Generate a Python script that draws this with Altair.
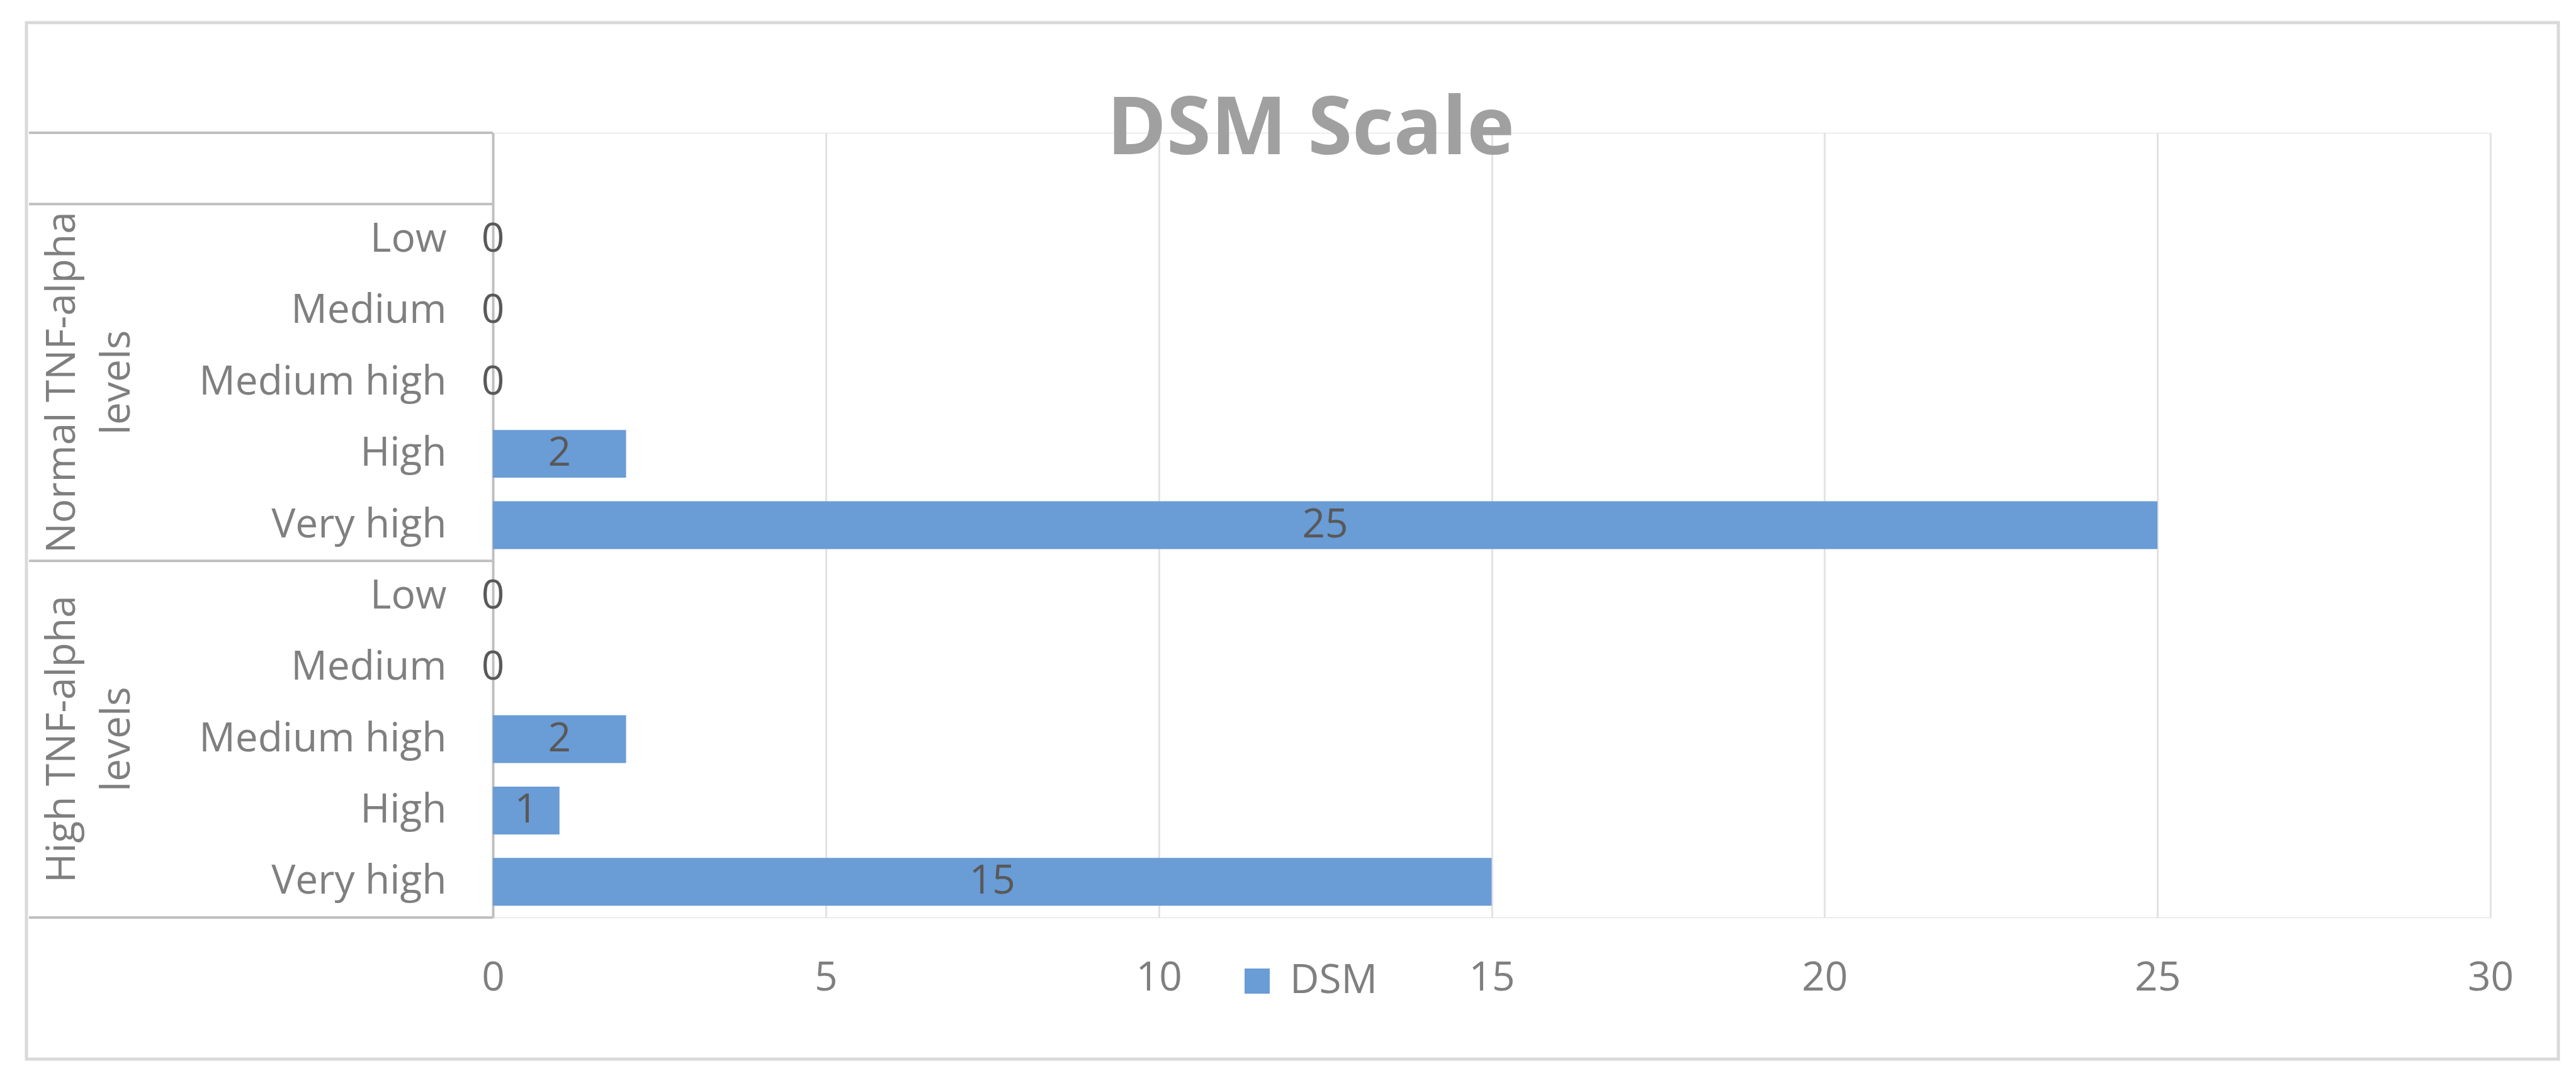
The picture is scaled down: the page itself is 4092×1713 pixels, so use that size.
import altair as alt
import pandas as pd

# ---- data ----
groups = ["Normal TNF-alpha levels", "High TNF-alpha levels"]
group_label_lines = [["Normal TNF-alpha", "levels"], ["High TNF-alpha", "levels"]]
levels = ["Low", "Medium", "Medium high", "High", "Very high"]
normal_values = [0, 0, 0, 2, 25]
high_values = [0, 0, 2, 1, 15]
series_name = "DSM"
title_text = "DSM Scale"
x_ticks = [0, 5, 10, 15, 20, 25, 30]

# ---- tables ----
values_by_group = [normal_values, high_values]
rows = []
for g, vals in zip(groups, values_by_group):
    for lvl, v in zip(levels, vals):
        rows.append({"key": f"{g}|{lvl}", "value": v, "series": series_name})
df = pd.DataFrame(rows)

domain = ["header"] + [f"{g}|{l}" for g in groups for l in levels]

grp_df = pd.DataFrame({
    "key": [f"{g}|{levels[len(levels)//2]}" for g in groups],
    "label": group_label_lines,
})

# table boundaries (rows counted from the bottom)
sizes = [len(levels)] * len(groups)
bounds = [0]
for s in reversed(sizes):
    bounds.append(bounds[-1] + s)
bounds.append(bounds[-1] + 1)  # header row
total_rows = bounds[-1]
bound_df = pd.DataFrame({"pos": bounds})

W, H = 3173, 1247
FONT = "Open Sans"
LABEL_GRAY = "#7f7f7f"
BAR = "#6a9cd6"

yscale = alt.Scale(domain=domain, paddingInner=0.33, paddingOuter=0.165)
yaxis = alt.Axis(title=None, ticks=False, tickSize=0, domainColor="#bfbfbf",
                 domainWidth=4, labelFont=FONT, labelFontSize=64,
                 labelColor=LABEL_GRAY, labelPadding=74, labelLimit=1000,
                 labelOverlap=False,
                 labelExpr="indexof(datum.label,'|') >= 0 ? split(datum.label,'|')[1] : ''")

base = alt.Chart(df)

bars = base.mark_bar(color=BAR).encode(
    x=alt.X("value:Q", scale=alt.Scale(domain=[0, 30]),
            axis=alt.Axis(values=x_ticks, format="d", grid=True, gridColor="#e3e3e3", gridWidth=3,
                          domain=False, ticks=False, tickSize=0, labelFont=FONT,
                          labelFontSize=64, labelColor=LABEL_GRAY, labelPadding=96,
                          labelBaseline="middle", labelFlush=False, title=None)),
    y=alt.Y("key:N", scale=yscale, sort=domain, axis=yaxis),
    color=alt.Color("series:N", scale=alt.Scale(domain=[series_name], range=[BAR]),
                    legend=alt.Legend(orient="none", legendX=1182, legendY=1316, title=None,
                                      symbolType="square", symbolSize=1600, symbolStrokeWidth=0,
                                      labelFont=FONT, labelFontSize=64, labelColor=LABEL_GRAY,
                                      labelOffset=20, padding=0)),
)

labels = base.transform_calculate(mid="datum.value / 2").mark_text(
    font=FONT, fontSize=64, color="#595959", align="center", baseline="middle"
).encode(
    x=alt.X("mid:Q"),
    y=alt.Y("key:N", scale=yscale, sort=domain, axis=yaxis),
    text=alt.Text("value:Q"),
)

group_text = alt.Chart(grp_df).mark_text(
    font=FONT, fontSize=64, color=LABEL_GRAY, angle=270, align="center",
    baseline="middle", lineHeight=87
).encode(
    x=alt.value(-683),
    y=alt.Y("key:N", scale=yscale, sort=domain, axis=yaxis),
    text="label",
)

title = alt.Chart(pd.DataFrame({"t": [title_text]})).mark_text(
    font=FONT, fontSize=128, fontWeight="bold", color="#a0a0a0",
    align="center", baseline="alphabetic"
).encode(text="t:N", x=alt.value(1299), y=alt.value(34))

table_lines = alt.Chart(bound_df).mark_rule(color="#bfbfbf", strokeWidth=4).encode(
    y=alt.Y("pos:Q", scale=alt.Scale(domain=[0, total_rows], nice=False, zero=True), axis=None),
    x=alt.value(-737), x2=alt.value(0),
)

border = alt.Chart(pd.DataFrame({"a": [0]})).mark_rect(
    filled=False, stroke="#d9d9d9", strokeWidth=5
).encode(x=alt.value(-741), x2=alt.value(3281), y=alt.value(-175), y2=alt.value(1472))

main = alt.layer(border, bars, labels, group_text, title)

chart = alt.layer(main, table_lines).resolve_scale(y="independent").properties(
    width=W, height=H,
    autosize=alt.AutoSizeParams(type="none"),
    padding={"left": 775, "top": 203, "right": 128, "bottom": 247},
).configure_view(stroke=None).configure(background="white")

chart.save("out.html", embed_options={"renderer": "svg", "actions": False})
